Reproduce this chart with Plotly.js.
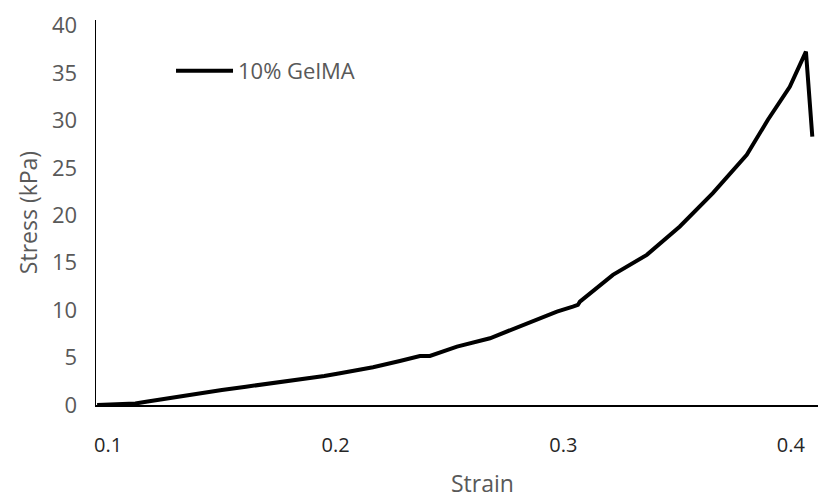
<!DOCTYPE html>
<html>
<head>
<meta charset="utf-8">
<script src="https://cdn.plot.ly/plotly-3.0.1.min.js"></script>
<style>html,body{margin:0;padding:0;background:#fff;}#chart{width:818px;height:501px;}</style>
</head>
<body>
<div id="chart"></div>
<script>
// Data
const seriesName = "10% GelMA";
const strain = [0.0952, 0.1050, 0.1120, 0.1167, 0.1280, 0.1386, 0.1500, 0.1606, 0.1720, 0.1826, 0.1950, 0.2019, 0.2089, 0.2164, 0.2282, 0.2370, 0.2414, 0.2533, 0.2678, 0.2823, 0.2972, 0.3042, 0.3064, 0.3073, 0.3130, 0.3218, 0.3367, 0.3512, 0.3657, 0.3806, 0.3899, 0.3995, 0.4066, 0.4080, 0.4088, 0.4094];
const stress = [0, 0.05, 0.15, 0.35, 0.80, 1.23, 1.58, 1.93, 2.28, 2.64, 3.05, 3.35, 3.62, 3.98, 4.64, 5.17, 5.17, 6.15, 7.04, 8.44, 9.85, 10.37, 10.55, 10.90, 11.96, 13.72, 15.83, 18.82, 22.34, 26.39, 30.08, 33.56, 37.26, 33.2, 30.6, 28.3];
const xTickVals = [0.1, 0.2, 0.3, 0.4];
const xTickText = ["0.1", "0.2", "0.3", "0.4"];
const yTickVals = [0, 5, 10, 15, 20, 25, 30, 35, 40];
const yTickText = ["0", "5", "10", "15", "20", "25", "30", "35", "40"];
const xTitle = "Strain";
const yTitle = "Stress (kPa)";

const FONT = '"Open Sans", "Noto Sans", sans-serif';
const GRAY = '#595959';

const trace = {
  x: strain, y: stress, type: 'scatter', mode: 'lines', name: seriesName,
  line: {color: '#000000', width: 4}, showlegend: true
};

const layout = {
  width: 818, height: 501,
  margin: {l: 96, r: 0, t: 20, b: 96, pad: 0},
  paper_bgcolor: '#ffffff', plot_bgcolor: '#ffffff',
  font: {family: FONT, color: GRAY},
  showlegend: true,
  legend: {
    x: 0.1039, y: 0.8675, xanchor: 'left', yanchor: 'middle',
    itemwidth: 57,
    bgcolor: 'rgba(0,0,0,0)', borderwidth: 0,
    font: {family: FONT, size: 22, color: GRAY}
  },
  xaxis: {
    range: [0.0947, 0.4119],
    tickvals: xTickVals, ticktext: xTickText,
    showgrid: false, zeroline: false,
    showline: true, linecolor: '#000000', linewidth: 1.5,
    ticks: '', ticklabelstandoff: 21,
    tickfont: {family: FONT, size: 20, color: '#262626'}
  },
  yaxis: {
    range: [0, 40.6],
    tickvals: yTickVals, ticktext: yTickText,
    showgrid: false, zeroline: false,
    showline: true, linecolor: '#000000', linewidth: 1.5,
    ticks: '', ticklabelstandoff: 13,
    tickfont: {family: FONT, size: 22, color: GRAY},
    title: {text: yTitle, font: {family: FONT, size: 23, color: GRAY}, standoff: 8}
  },
  annotations: [{
    text: xTitle, xref: 'paper', yref: 'paper', x: 0.536, y: -0.2494,
    xanchor: 'center', yanchor: 'bottom', showarrow: false,
    font: {family: FONT, size: 23, color: GRAY}
  }]
};

Plotly.newPlot('chart', [trace], layout, {displayModeBar: false, staticPlot: true});
</script>
</body>
</html>
